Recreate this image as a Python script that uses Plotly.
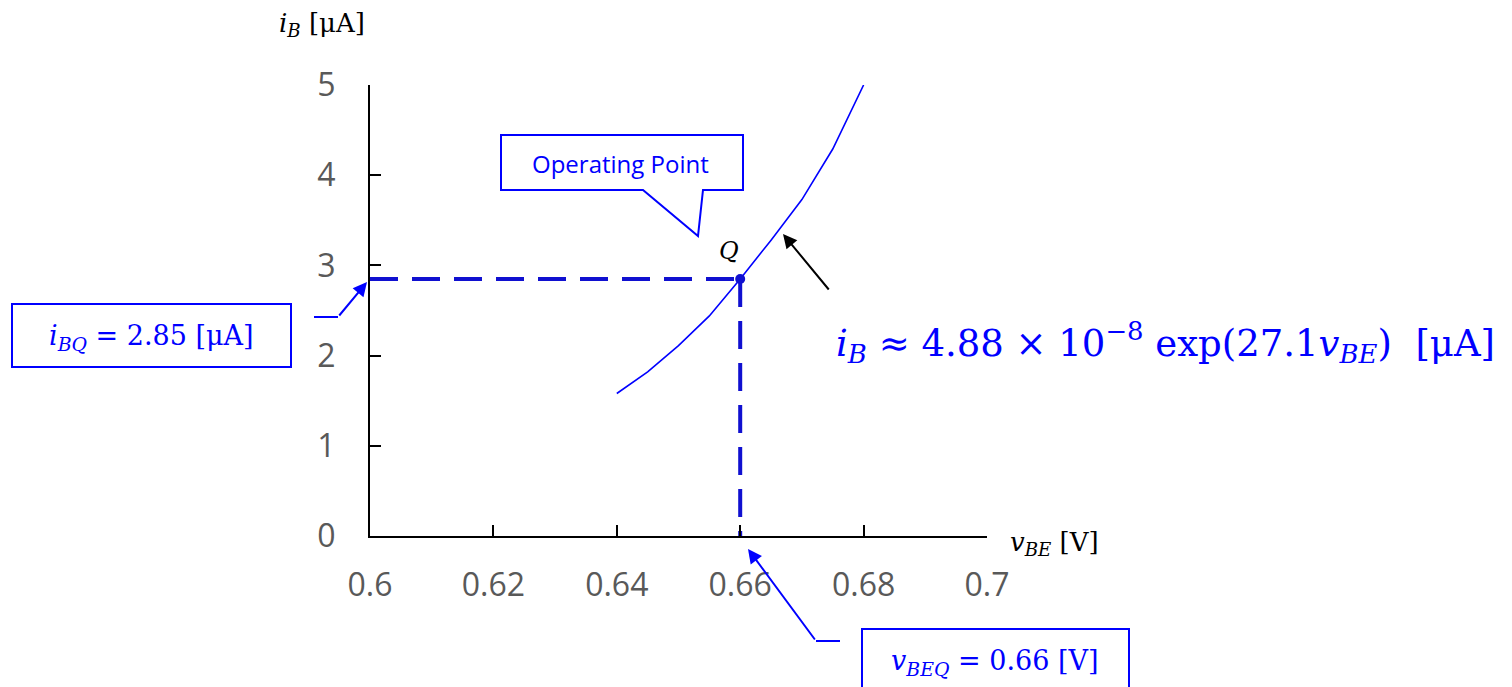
import plotly.graph_objects as go

# Measured base-emitter characteristic
v_be = [0.64, 0.645, 0.65, 0.655, 0.66, 0.665, 0.67, 0.675, 0.68]
i_b = [1.58, 1.82, 2.11, 2.44, 2.85, 3.28, 3.73, 4.29, 5.0]

# Operating point
v_beq = 0.66
i_bq = 2.85

x_ticks = [0.6, 0.62, 0.64, 0.66, 0.68, 0.7]
x_tick_text = ["0.6", "0.62", "0.64", "0.66", "0.68", "0.7"]
y_ticks = [0, 1, 2, 3, 4, 5]
y_tick_text = ["0", "1", "2", "3", "4", "5"]

W, H = 1512, 687
L, R, T, B = 370, 987, 85, 536
PW, PH = R - L, B - T

BLUE = "#0000FF"
DASH_BLUE = "#1010D0"
MATH = "DejaVu Serif"
SANS = "Open Sans"


def px(xp):
    return (xp - L) / PW


def py(yp):
    return (B - yp) / PH


fig = go.Figure()

# guide lines from the operating point to both axes
fig.add_trace(go.Scatter(
    x=[x_ticks[0], v_beq], y=[i_bq, i_bq], mode="lines",
    line=dict(color=DASH_BLUE, width=4, dash="28px,14px"),
    hoverinfo="skip", cliponaxis=False))
fig.add_trace(go.Scatter(
    x=[v_beq, v_beq], y=[i_bq, y_ticks[0]], mode="lines",
    line=dict(color=DASH_BLUE, width=4, dash="28px,14px"),
    hoverinfo="skip", cliponaxis=False))

# characteristic curve
fig.add_trace(go.Scatter(
    x=v_be, y=i_b, mode="lines",
    line=dict(color=BLUE, width=1.6), cliponaxis=False))

# Q point
fig.add_trace(go.Scatter(
    x=[v_beq], y=[i_bq], mode="markers",
    marker=dict(color=DASH_BLUE, size=10), cliponaxis=False))

shapes = []
# "Operating Point" callout
callout = [(501, 135), (743, 135), (743, 190), (703, 190), (698, 236),
           (643, 190), (501, 190)]
path = "M " + " L ".join(f"{px(a):.5f},{py(b):.5f}" for a, b in callout) + " Z"
shapes.append(dict(type="path", xref="paper", yref="paper", path=path,
                   line=dict(color=BLUE, width=2), fillcolor="white"))
# value boxes
shapes.append(dict(type="rect", xref="paper", yref="paper",
                   x0=px(12), x1=px(291), y0=py(304), y1=py(367),
                   line=dict(color=BLUE, width=2), fillcolor="white"))
shapes.append(dict(type="rect", xref="paper", yref="paper",
                   x0=px(862), x1=px(1129), y0=py(629), y1=py(700),
                   line=dict(color=BLUE, width=2), fillcolor="white"))
# elbow segments of the connectors
shapes.append(dict(type="line", xref="paper", yref="paper",
                   x0=px(314), x1=px(338), y0=py(317), y1=py(317),
                   line=dict(color=BLUE, width=2)))
shapes.append(dict(type="line", xref="paper", yref="paper",
                   x0=px(816), x1=px(840), y0=py(641), y1=py(641),
                   line=dict(color=BLUE, width=2)))

annotations = []


def arrow(tip, tail, color):
    annotations.append(dict(
        xref="paper", yref="paper", x=px(tip[0]), y=py(tip[1]),
        ax=tail[0] - tip[0], ay=tail[1] - tip[1], axref="pixel", ayref="pixel",
        text="", showarrow=True, arrowhead=2, arrowsize=1.4, arrowwidth=2,
        arrowcolor=color, standoff=0))


arrow((783, 234), (830, 291), "black")
arrow((367, 282), (338, 317), BLUE)
arrow((748, 549), (816, 641), BLUE)


def label(xp, yp, text, size, color, family, xanchor="center"):
    annotations.append(dict(
        xref="paper", yref="paper", x=px(xp), y=py(yp), text=text,
        showarrow=False, xanchor=xanchor, yanchor="middle",
        font=dict(size=size, color=color, family=family)))


label(620, 163, "Operating Point", 24, BLUE, SANS)
label(729, 251, "<i>Q</i>", 24, "black", MATH)
label(151, 337, "<i>i</i><sub><i>BQ</i></sub> = 2.85 [μA]", 27, BLUE, MATH)
label(995, 662, "<i>v</i><sub><i>BEQ</i></sub> = 0.66 [V]", 27, BLUE, MATH)
label(834, 342,
      "<i>i</i><sub><i>B</i></sub> ≈ 4.88 × 10<sup>−8</sup> exp(27.1<i>v</i>"
      "<sub><i>BE</i></sub>)  [μA]",
      37, BLUE, MATH, xanchor="left")
label(322, 25, "<i>i</i><sub><i>B</i></sub> [μA]", 26, "black", MATH)
label(1008, 543, "<i>v</i><sub><i>BE</i></sub> [V]", 26, "black", MATH,
      xanchor="left")

axis_common = dict(
    showgrid=False, zeroline=False, showline=True, linecolor="black",
    linewidth=2, ticks="inside", ticklen=11, tickwidth=2, tickcolor="black",
    tickfont=dict(size=32, color="#595959", family=SANS), mirror=False)

fig.update_layout(
    width=W, height=H, autosize=False,
    margin=dict(l=L, r=W - R, t=T, b=H - B),
    paper_bgcolor="white", plot_bgcolor="white", showlegend=False,
    xaxis=dict(range=[0.6, 0.7], tickvals=x_ticks, ticktext=x_tick_text,
               ticklabelstandoff=20, **axis_common),
    yaxis=dict(range=[0, 5], tickvals=y_ticks, ticktext=y_tick_text,
               ticklabelstandoff=26, **axis_common),
    shapes=shapes, annotations=annotations)

fig.write_html("out.html")
